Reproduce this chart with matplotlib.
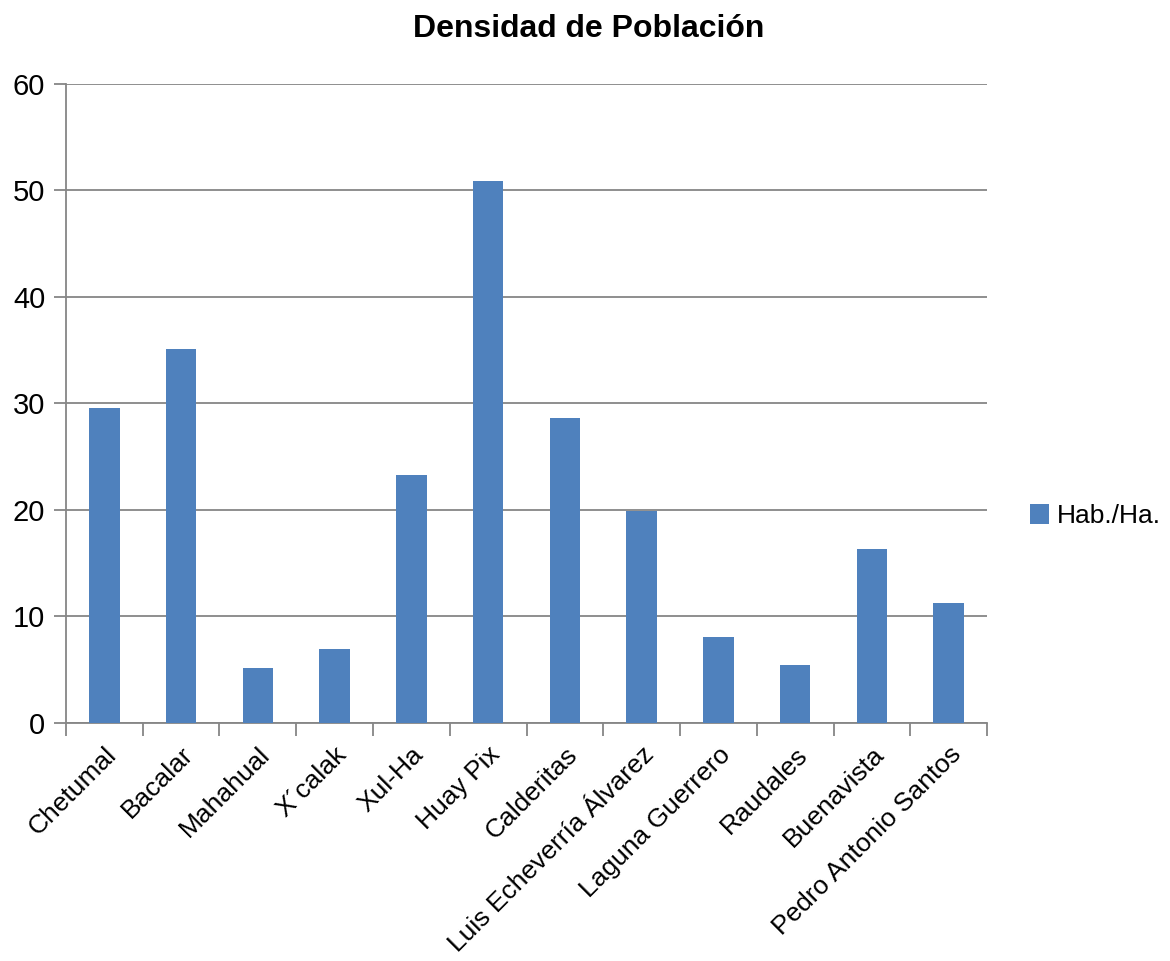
import matplotlib.pyplot as plt
import numpy as np

plt.rcParams['font.family'] = ['Liberation Sans Narrow', 'Liberation Sans', 'DejaVu Sans']

localidades = ["Chetumal", "Bacalar", "Mahahual", "X´calak", "Xul-Ha", "Huay Pix",
               "Calderitas", "Luis Echeverría Álvarez", "Laguna Guerrero", "Raudales",
               "Buenavista", "Pedro Antonio Santos"]
densidad = [29.6, 35.1, 5.2, 6.9, 23.3, 50.9, 28.6, 19.9, 8.1, 5.4, 16.3, 11.3]
yticks = [0, 10, 20, 30, 40, 50, 60]

gris = "#868686"
azul = "#4F81BD"

fig = plt.figure(figsize=(11.7, 9.61), dpi=100)
ax = fig.add_axes([0.0564, 0.2477, 0.7872, 0.6649])

x = np.arange(len(localidades))
ax.bar(x, densidad, width=0.4, color=azul, label="Hab./Ha.", zorder=3)

ax.set_xlim(-0.5, len(localidades) - 0.5)
ax.set_ylim(0, 60)
ax.set_yticks(yticks)
ax.yaxis.grid(True, color=gris, linewidth=1.3, zorder=0)

# etiquetas en el centro, marcas en los límites
ax.set_xticks(x)
ax.set_xticklabels(localidades, rotation=45, ha='right', rotation_mode='anchor')
ax.set_xticks(np.arange(-0.5, len(localidades)), minor=True)
ax.tick_params(axis='x', which='major', length=0, labelsize=19, pad=14)
ax.tick_params(axis='x', which='minor', length=9, width=1.3, color=gris)
ax.tick_params(axis='y', length=9, width=1.3, color=gris, labelsize=21, pad=6)

for lado in ['top', 'right']:
    ax.spines[lado].set_visible(False)
for lado in ['left', 'bottom']:
    ax.spines[lado].set_color(gris)
    ax.spines[lado].set_linewidth(1.3)

fig.suptitle("Densidad de Población", fontsize=23, fontweight='bold', x=0.503, y=0.985)
fig.legend(loc='center left', bbox_to_anchor=(0.88, 0.463), frameon=False,
           fontsize=19, handlelength=0.75, handleheight=0.75, handletextpad=0.3,
           borderaxespad=0, borderpad=0)

fig.savefig("out.png", dpi=100)
